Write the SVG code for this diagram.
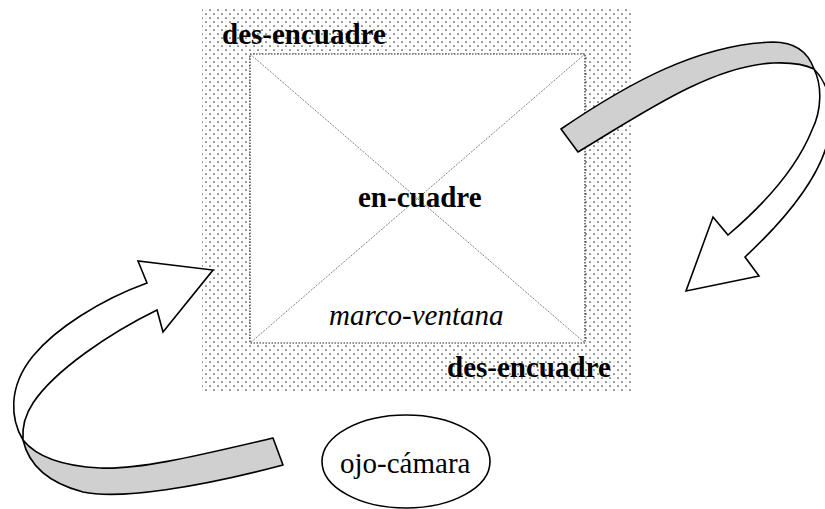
<svg xmlns="http://www.w3.org/2000/svg" width="825" height="509" viewBox="0 0 825 509">
  <defs>
    <!-- stippled screen used for the outer band -->
    <pattern id="stipple" x="0" y="0" width="8" height="8" patternUnits="userSpaceOnUse">
      <circle cx="2" cy="2" r="0.85" fill="#3c3c3c"/>
      <circle cx="6" cy="6" r="0.85" fill="#3c3c3c"/>
      <circle cx="6" cy="2" r="0.5" fill="#b4b4b4"/>
      <circle cx="2" cy="6" r="0.5" fill="#b4b4b4"/>
    </pattern>
  </defs>
  <style>
    .lbl { font-family: "Liberation Serif", "Times New Roman", "DejaVu Serif", serif; font-size: 29px; fill: #000; }
    .bold { font-weight: bold; }
    .ital { font-style: italic; }
    .frame { fill: #fff; stroke: #222; stroke-width: 1.2; stroke-dasharray: 1.5 1.5; }
    .diag { stroke: #444; stroke-width: 0.9; stroke-dasharray: 1 1.2; fill: none; }
    .back { fill: #d0d0d0; stroke: #000; stroke-width: 1.6; stroke-linejoin: round; }
    .front { fill: #fff; stroke: #000; stroke-width: 1.6; stroke-linejoin: miter; }
    .eye { fill: #fff; stroke: #000; stroke-width: 1.6; }
  </style>

  <!-- outer stippled band: des-encuadre -->
  <g id="desencuadre">
    <rect x="202" y="7" width="430" height="385" fill="url(#stipple)"/>
  </g>

  <!-- inner window: en-cuadre / marco-ventana -->
  <g id="encuadre">
    <rect class="frame" x="250" y="54" width="335" height="289"/>
    <line class="diag" x1="250" y1="54" x2="585" y2="343"/>
    <line class="diag" x1="585" y1="54" x2="250" y2="343"/>
  </g>

  <!-- labels -->
  <g id="labels">
    <text class="lbl bold" x="222" y="44">des-encuadre</text>
    <text class="lbl bold" x="358" y="207">en-cuadre</text>
    <text class="lbl ital" x="329" y="325">marco-ventana</text>
    <text class="lbl bold" x="447" y="377">des-encuadre</text>
  </g>

  <!-- camera eye -->
  <g id="ojo-camara">
    <ellipse class="eye" cx="406" cy="461.5" rx="84" ry="46.5"/>
    <text class="lbl" x="340" y="473">ojo-cámara</text>
  </g>

  <!-- twisted ribbon arrows -->
  <g id="connectors">
    <!-- upper right ribbon: gray tail, then white head -->
    <path class="back" d="M561,129 C630,82 700,44 773,42 C795,42 808,52 814,69 C806,65 795,62 773,63 C710,66 640,115 578,152 Z"/>
    <path class="front" d="M814,69 C822,85 822,110 812,130 C800,160 775,195 728,235 L713,217 L686,291 L759,276 L745,257 C790,215 825,170 830,130 C834,100 825,80 814,69 Z"/>

    <!-- lower left ribbon: gray tail, then white head -->
    <path class="back" d="M273,438 C200,455 140,470 100,468 C60,466 35,455 23,440 C28,462 45,482 83,492 C120,500 200,487 283,465 Z"/>
    <path class="front" d="M23,440 C11,420 7,388 33,356 C55,329 100,300 147,283 L138,261 L213,270 L163,332 L157,310 C110,333 55,370 33,403 C25,415 22,428 23,440 Z"/>
  </g>
</svg>
